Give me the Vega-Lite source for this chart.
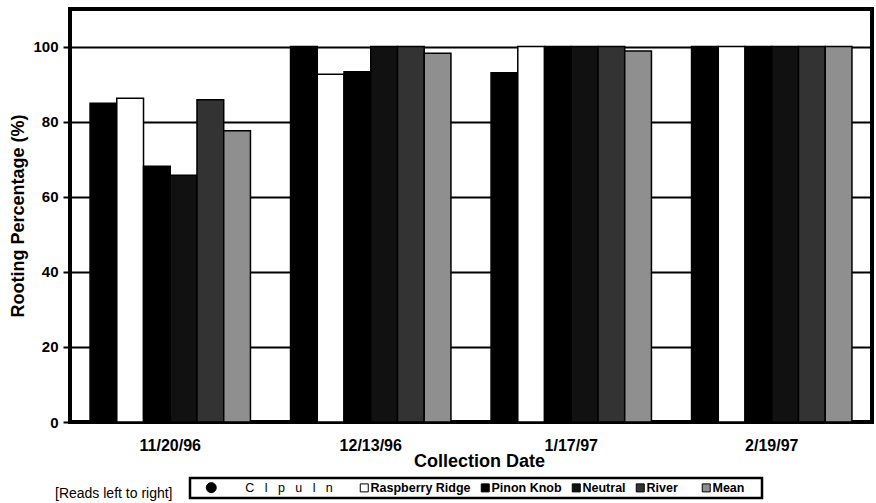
{
  "$schema": "https://vega.github.io/schema/vega-lite/v6.json",
  "autosize": {"type": "none"},
  "width": 802,
  "height": 413,
  "padding": {"left": 70, "top": 9, "right": 4, "bottom": 81},
  "background": "white",
  "title": {
    "text": "[Reads left to right]",
    "orient": "bottom",
    "anchor": "start",
    "frame": "group",
    "font": "Liberation Sans",
    "fontSize": 14,
    "fontWeight": "normal",
    "color": "black",
    "dx": -15,
    "dy": -12,
    "offset": 0
  },
  "data": {
    "values": [
      {"date": "11/20/96", "site": "Clpuln", "pct": 84.9},
      {"date": "11/20/96", "site": "Raspberry Ridge", "pct": 86.2},
      {"date": "11/20/96", "site": "Pinon Knob", "pct": 68.1},
      {"date": "11/20/96", "site": "Neutral", "pct": 65.7},
      {"date": "11/20/96", "site": "River", "pct": 85.8},
      {"date": "11/20/96", "site": "Mean", "pct": 77.6},
      {"date": "12/13/96", "site": "Clpuln", "pct": 100},
      {"date": "12/13/96", "site": "Raspberry Ridge", "pct": 92.6},
      {"date": "12/13/96", "site": "Pinon Knob", "pct": 93.3},
      {"date": "12/13/96", "site": "Neutral", "pct": 100},
      {"date": "12/13/96", "site": "River", "pct": 100},
      {"date": "12/13/96", "site": "Mean", "pct": 98.2},
      {"date": "1/17/97", "site": "Clpuln", "pct": 93.0},
      {"date": "1/17/97", "site": "Raspberry Ridge", "pct": 100},
      {"date": "1/17/97", "site": "Pinon Knob", "pct": 100},
      {"date": "1/17/97", "site": "Neutral", "pct": 100},
      {"date": "1/17/97", "site": "River", "pct": 100},
      {"date": "1/17/97", "site": "Mean", "pct": 98.8},
      {"date": "2/19/97", "site": "Clpuln", "pct": 100},
      {"date": "2/19/97", "site": "Raspberry Ridge", "pct": 100},
      {"date": "2/19/97", "site": "Pinon Knob", "pct": 100},
      {"date": "2/19/97", "site": "Neutral", "pct": 100},
      {"date": "2/19/97", "site": "River", "pct": 100},
      {"date": "2/19/97", "site": "Mean", "pct": 100}
    ]
  },
  "mark": {"type": "bar", "stroke": "black", "strokeWidth": 1.5},
  "encoding": {
    "x": {
      "field": "date",
      "type": "nominal",
      "sort": ["11/20/96", "12/13/96", "1/17/97", "2/19/97"],
      "scale": {"paddingInner": 0.2, "paddingOuter": 0.1},
      "axis": {
        "title": "Collection Date",
        "labelAngle": 0,
        "ticks": false,
        "tickSize": 0,
        "domainColor": "black",
        "domainWidth": 3,
        "labelFont": "Liberation Sans",
        "labelFontSize": 16,
        "labelFontWeight": "bold",
        "labelColor": "black",
        "labelPadding": 15,
        "titleFont": "Liberation Sans",
        "titleFontSize": 18,
        "titleFontWeight": "bold",
        "titleColor": "black",
        "titleX": 409,
        "titleY": 44,
        "titleAlign": "center",
        "titleBaseline": "alphabetic"
      }
    },
    "xOffset": {
      "field": "site",
      "type": "nominal",
      "sort": ["Clpuln", "Raspberry Ridge", "Pinon Knob", "Neutral", "River", "Mean"],
      "scale": {"paddingInner": 0, "paddingOuter": 0}
    },
    "y": {
      "field": "pct",
      "type": "quantitative",
      "scale": {"domain": [0, 110], "nice": false},
      "axis": {
        "values": [0, 20, 40, 60, 80, 100],
        "title": "Rooting Percentage (%)",
        "grid": true,
        "gridColor": "black",
        "gridWidth": 2,
        "gridOpacity": 1,
        "domainColor": "black",
        "domainWidth": 3,
        "tickColor": "black",
        "tickSize": 7,
        "tickWidth": 2,
        "labelFont": "Liberation Sans",
        "labelFontSize": 15,
        "labelFontWeight": "bold",
        "labelColor": "black",
        "labelPadding": 5,
        "titleFont": "Liberation Sans",
        "titleFontSize": 18,
        "titleFontWeight": "bold",
        "titleColor": "black",
        "titleX": -47,
        "titleY": 206.5,
        "titleAngle": 270,
        "titleAlign": "center",
        "titleBaseline": "alphabetic"
      }
    },
    "color": {
      "field": "site",
      "type": "nominal",
      "sort": ["Clpuln", "Raspberry Ridge", "Pinon Knob", "Neutral", "River", "Mean"],
      "scale": {
        "domain": ["Clpuln", "Raspberry Ridge", "Pinon Knob", "Neutral", "River", "Mean"],
        "range": ["#000000", "#ffffff", "#000000", "#111111", "#333333", "#8f8f8f"]
      },
      "legend": {
        "orient": "none",
        "legendX": 120,
        "legendY": 469,
        "direction": "horizontal",
        "columns": 6,
        "title": "\u200b\u00a0\u00a0\u00a0\u200b",
        "titleOrient": "left",
        "titlePadding": 0,
        "titleFont": "Liberation Sans",
        "titleFontSize": 13.5,
        "strokeColor": "black",
        "padding": 3,
        "labelFont": "Liberation Sans",
        "labelFontSize": 12.5,
        "labelFontWeight": "bold",
        "labelColor": "black",
        "labelOffset": 0,
        "labelLimit": 300,
        "columnPadding": 4,
        "symbolType": "square",
        "symbolSize": 64,
        "symbolStrokeColor": "black",
        "symbolStrokeWidth": 1,
        "symbolOpacity": 1,
        "labelExpr": "datum.value === 'Clpuln' ? '\u200b' + pad('', 8, '\u00a0') + join(['C','l','p','u','l','n'], '\u00a0\u00a0\u00a0') + pad('', 6, '\u00a0') + '\u200b' : datum.value === 'River' ? datum.label + pad('', 5, '\u00a0') + '\u200b' : datum.value === 'Mean' ? datum.label + pad('', 4, '\u00a0') + '\u200b' : datum.label + '\u00a0\u200b'",
        "encoding": {
          "symbols": {
            "shape": {"value": {"expr": "datum.value === 'Clpuln' ? 'circle' : 'square'"}},
            "size": {"value": {"expr": "datum.value === 'Clpuln' ? 100 : 64"}}
          },
          "labels": {
            "fontWeight": {"value": {"expr": "datum.value === 'Clpuln' ? 'normal' : 'bold'"}}
          },
          "legend": {
            "strokeWidth": {"value": 2.5}
          }
        }
      }
    }
  },
  "config": {
    "font": "Liberation Sans",
    "view": {"stroke": "black", "strokeWidth": 4}
  }
}
